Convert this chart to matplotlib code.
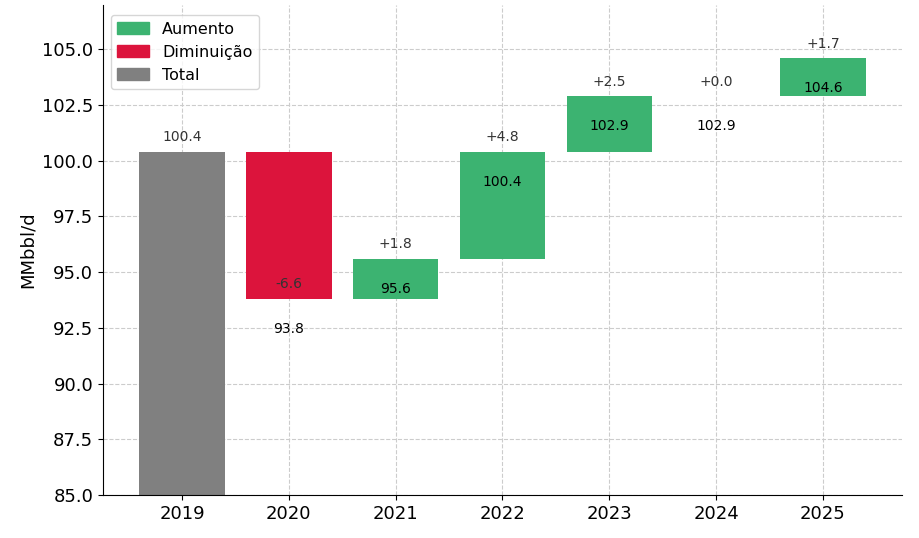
import matplotlib
matplotlib.use("Agg")
import matplotlib.pyplot as plt
from matplotlib.patches import Patch

years = ["2019", "2020", "2021", "2022", "2023", "2024", "2025"]
start_total = 100.4
changes = [None, -6.6, 1.8, 4.8, 2.5, 0.0, 1.7]
cumulative = [100.4, 93.8, 95.6, 100.4, 102.9, 102.9, 104.6]

green = "#3CB371"
red = "#DC143C"
gray = "#808080"

fig = plt.figure(figsize=(9.19, 5.38), dpi=100)
ax = fig.add_axes([0.112, 0.08, 0.8695, 0.911])

for i, yr in enumerate(years):
    if changes[i] is None:
        ax.bar(i, cumulative[i], bottom=0, width=0.8, color=gray, zorder=2)
        ax.text(i, cumulative[i] + 0.65, f"{cumulative[i]:.1f}", ha="center", va="center",
                fontsize=10, color="#333333", zorder=3)
    else:
        prev = cumulative[i - 1]
        ch = changes[i]
        color = green if ch >= 0 else red
        ax.bar(i, ch, bottom=prev, width=0.8, color=color, zorder=2)
        ax.text(i, cumulative[i] + 0.65, f"{ch:+.1f}", ha="center", va="center",
                fontsize=10, color="#333333", zorder=3)
        ax.text(i, cumulative[i] - 1.35, f"{cumulative[i]:.1f}", ha="center", va="center",
                fontsize=10, color="black", zorder=3)

ax.set_xticks(range(len(years)))
ax.set_xticklabels(years, fontsize=13)
ax.set_xlim(-0.74, 6.74)
ax.set_ylim(85, 107)
ax.set_yticks([85, 87.5, 90, 92.5, 95, 97.5, 100, 102.5, 105])
ax.set_yticklabels([f"{v:.1f}" for v in [85, 87.5, 90, 92.5, 95, 97.5, 100, 102.5, 105]], fontsize=13)
ax.set_ylabel("MMbbl/d", fontsize=13)
ax.grid(True, linestyle="--", color="#cccccc", linewidth=0.8, zorder=0)
ax.set_axisbelow(True)
ax.spines["top"].set_visible(False)
ax.spines["right"].set_visible(False)

handles = [Patch(color=green, label="Aumento"),
           Patch(color=red, label="Diminuição"),
           Patch(color=gray, label="Total")]
ax.legend(handles=handles, loc="upper left", fontsize=11.5, bbox_to_anchor=(0.0, 0.995))

fig.savefig("out.png", dpi=100)
